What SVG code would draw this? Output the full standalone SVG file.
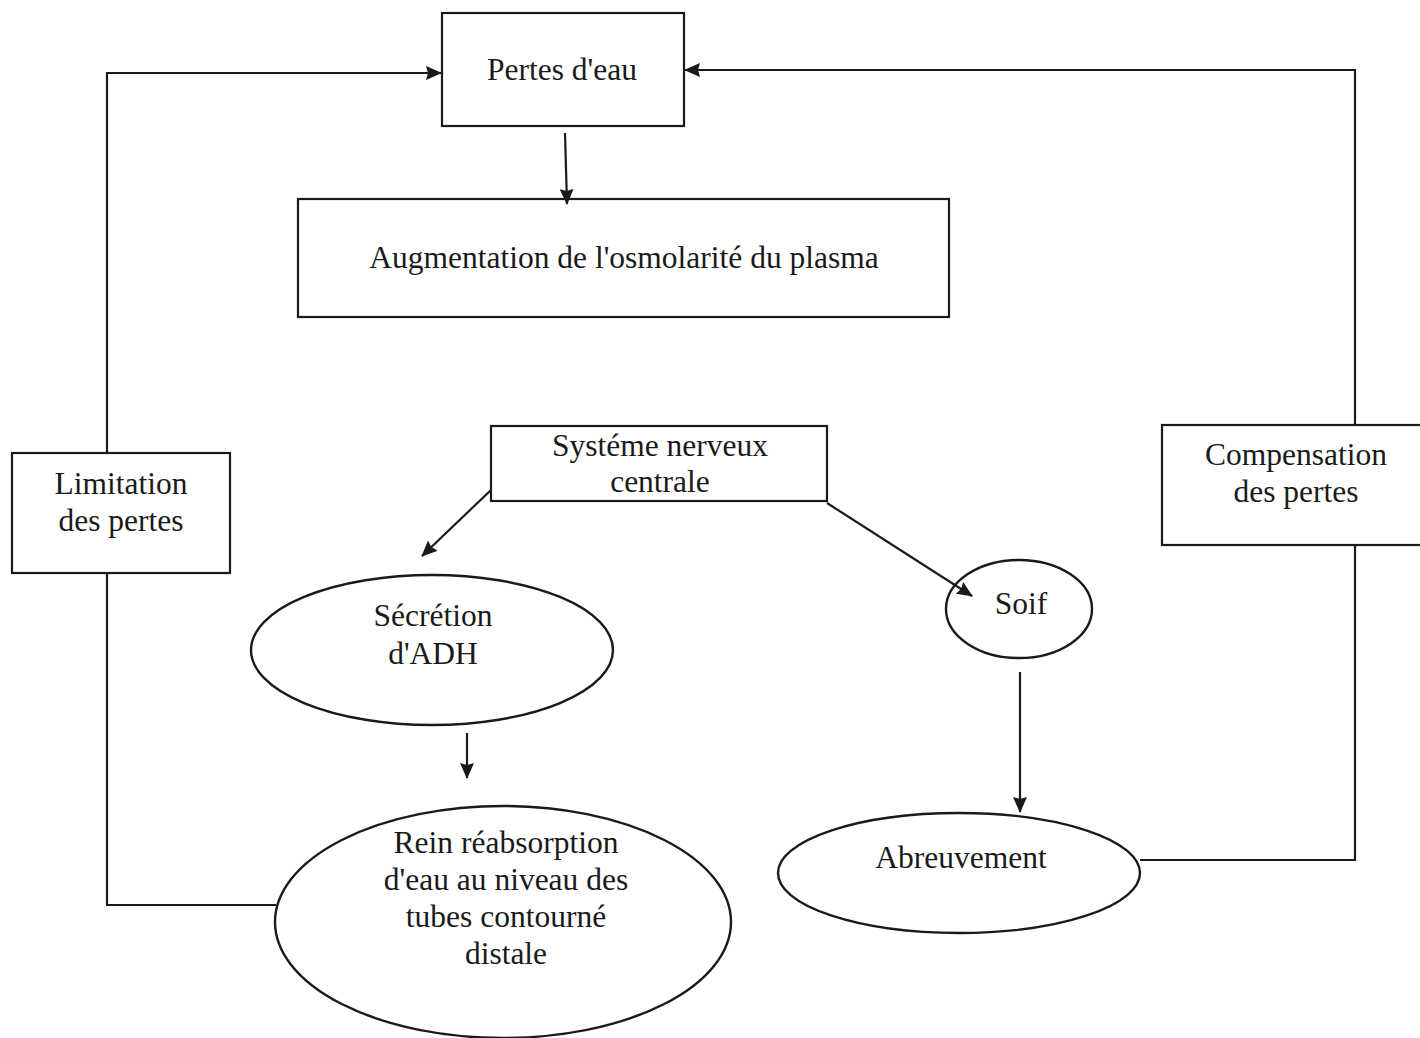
<svg xmlns="http://www.w3.org/2000/svg" width="1420" height="1038" viewBox="0 0 1420 1038">
<style>
.box{fill:#fff;stroke:#1a1a1a;stroke-width:2.2}
.ell{fill:#fff;stroke:#1a1a1a;stroke-width:2.4}
.ln{fill:none;stroke:#1a1a1a;stroke-width:2.2}
text{font-family:"Liberation Serif","Times New Roman",serif;font-size:31.5px;fill:#1a1a1a;text-anchor:middle}
</style>
<defs>
<marker id="ah" viewBox="0 0 16 14" refX="15" refY="7" markerWidth="16" markerHeight="14" markerUnits="userSpaceOnUse" orient="auto">
<path d="M0,0 L16,7 L0,14 L2,7 Z" fill="#1a1a1a"/>
</marker>
</defs>
<rect width="1420" height="1038" fill="#fff"/>
<g id="pertes"><rect class="box" x="442" y="13" width="242" height="113"/><text x="562" y="80">Pertes d'eau</text></g>
<g id="augmentation"><rect class="box" x="298" y="199" width="651" height="118"/><text x="624" y="268">Augmentation de l'osmolarité du plasma</text></g>
<g id="snc"><rect class="box" x="491" y="426" width="336" height="75"/><text x="660" y="456">Systéme nerveux</text><text x="660" y="492">centrale</text></g>
<g id="limitation"><rect class="box" x="12" y="453" width="218" height="120"/><text x="121" y="494">Limitation</text><text x="121" y="531">des pertes</text></g>
<g id="compensation"><rect class="box" x="1162" y="425" width="262" height="120"/><text x="1296" y="465">Compensation</text><text x="1296" y="502">des pertes</text></g>
<g id="secretion"><ellipse class="ell" cx="432" cy="650" rx="181" ry="75"/><text x="433" y="626">Sécrétion</text><text x="433" y="664">d'ADH</text></g>
<g id="soif"><ellipse class="ell" cx="1019" cy="609" rx="73" ry="49"/><text x="1021" y="614">Soif</text></g>
<g id="rein"><ellipse class="ell" cx="503" cy="922" rx="228" ry="116"/><text x="506" y="853">Rein réabsorption</text><text x="506" y="890">d'eau au niveau des</text><text x="506" y="927">tubes contourné</text><text x="506" y="964">distale</text></g>
<g id="abreuvement"><ellipse class="ell" cx="959" cy="873" rx="181" ry="60"/><text x="961" y="868">Abreuvement</text></g>
<g id="connectors">
<polyline class="ln" points="276,905 107,905 107,573"/>
<polyline class="ln" points="107,453 107,73 441,73" marker-end="url(#ah)"/>
<polyline class="ln" points="1140,860 1355,860 1355,545"/>
<polyline class="ln" points="1355,425 1355,70 685,70" marker-end="url(#ah)"/>
<line class="ln" x1="565" y1="133" x2="567" y2="204" marker-end="url(#ah)"/>
<line class="ln" x1="491" y1="490" x2="422" y2="556" marker-end="url(#ah)"/>
<line class="ln" x1="827" y1="503" x2="972" y2="596" marker-end="url(#ah)"/>
<line class="ln" x1="1020" y1="672" x2="1020" y2="812" marker-end="url(#ah)"/>
<line class="ln" x1="467" y1="733" x2="467" y2="778" marker-end="url(#ah)"/>
</g>
</svg>
